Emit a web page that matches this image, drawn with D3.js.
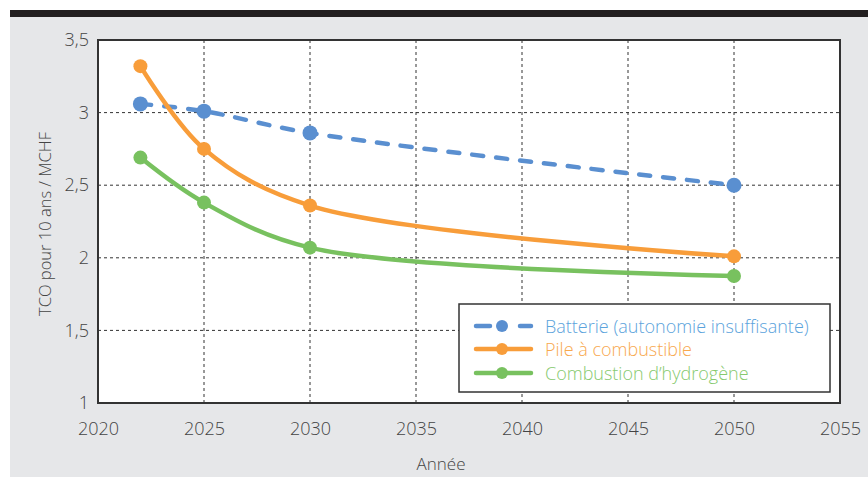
<!DOCTYPE html>
<html>
<head>
<meta charset="utf-8">
<script src="https://cdn.jsdelivr.net/npm/d3@7"></script>
<style>
html,body{margin:0;padding:0;background:#fff;}
svg{display:block;}
text{font-family:"Open Sans",Lato,sans-serif;font-weight:300;}
</style>
</head>
<body>
<svg id="c" width="868" height="477"></svg>
<script>
const years = [2022, 2025, 2030, 2050];
const seriesNames = ["Batterie (autonomie insuffisante)", "Pile à combustible", "Combustion d’hydrogène"];
const batterie = [3.06, 3.01, 2.86, 2.50];
const pile = [3.32, 2.75, 2.36, 2.01];
const combustion = [2.69, 2.38, 2.07, 1.875];
const xTicks = [2020, 2025, 2030, 2035, 2040, 2045, 2050, 2055];
const yTicks = [1, 1.5, 2, 2.5, 3, 3.5];
const yTickLabels = ["1", "1,5", "2", "2,5", "3", "3,5"];
const colors = ["#5a8fd0", "#f89d3a", "#78c15f"];
const textColors = ["#5ba3dc", "#f8a84e", "#86c96e"];
const FONT = "'Open Sans',Lato,sans-serif";

const svg = d3.select("#c");
svg.append("rect").attr("x",10).attr("y",17).attr("width",858).attr("height",460).attr("fill","#e6e7e9");
svg.append("rect").attr("x",10).attr("y",10).attr("width",858).attr("height",7).attr("fill","#231f20");

const x = d3.scaleLinear().domain([2020,2055]).range([98,840]);
const y = d3.scaleLinear().domain([1,3.5]).range([403,40]);

svg.append("rect").attr("x",98).attr("y",40).attr("width",742).attr("height",363).attr("fill","#fff");

const g = svg.append("g");
g.selectAll(".vg").data(xTicks.slice(1,-1)).join("line")
  .attr("x1",d=>x(d)).attr("x2",d=>x(d)).attr("y1",40).attr("y2",403)
  .attr("stroke","#333").attr("stroke-width",1).attr("stroke-dasharray","3,3");
g.selectAll(".hg").data(yTicks.slice(1,-1)).join("line")
  .attr("y1",d=>y(d)).attr("y2",d=>y(d)).attr("x1",98).attr("x2",840)
  .attr("stroke","#333").attr("stroke-width",1).attr("stroke-dasharray","3,3");

svg.append("rect").attr("x",98).attr("y",40).attr("width",742).attr("height",363)
  .attr("fill","none").attr("stroke","#333").attr("stroke-width",2);

const xAxis = d3.axisBottom(x).tickValues(xTicks).tickSize(0).tickPadding(19).tickFormat(d3.format("d"));
const gx = svg.append("g").attr("transform","translate(0,403)").call(xAxis);
gx.select(".domain").remove();
gx.selectAll("text").attr("font-size",18).attr("fill","#444").style("font-family",FONT).style("font-weight",300);

const yAxis = d3.axisLeft(y).tickValues(yTicks).tickSize(0).tickPadding(9).tickFormat((d,i)=>yTickLabels[i]);
const gy = svg.append("g").attr("transform","translate(98,0)").call(yAxis);
gy.select(".domain").remove();
gy.selectAll("text").attr("font-size",18).attr("fill","#444").style("font-family",FONT).style("font-weight",300);

svg.append("text").attr("x",441).attr("y",470).attr("text-anchor","middle")
  .attr("font-size",17).attr("fill","#444").text("Année");
svg.append("text").attr("transform","translate(51,224) rotate(-90)").attr("text-anchor","middle")
  .attr("font-size",16.5).attr("fill","#444").text("TCO pour 10 ans / MCHF");

const data = [batterie, pile, combustion];
const line = d3.line().x((d,i)=>x(years[i])).y(d=>y(d)).curve(d3.curveCatmullRom.alpha(0.5));
data.forEach((vals,k)=>{
  svg.append("path").attr("d",line(vals)).attr("fill","none")
    .attr("stroke",colors[k]).attr("stroke-width",4.5)
    .attr("stroke-linecap", k===0 ? "round" : "butt")
    .attr("stroke-dasharray", k===0 ? "11,13" : null);
  svg.selectAll(null).data(vals).join("circle")
    .attr("cx",(d,i)=>x(years[i])).attr("cy",d=>y(d)).attr("r",k===0?7.5:7)
    .attr("fill",colors[k]);
});

const lg = svg.append("g");
lg.append("rect").attr("x",459).attr("y",304).attr("width",371).attr("height",88)
  .attr("fill","#fff").attr("stroke","#333").attr("stroke-width",1.5);
const rows = [326, 349, 373];
rows.forEach((ry,k)=>{
  lg.append("line").attr("x1",476).attr("x2",531).attr("y1",ry).attr("y2",ry)
    .attr("stroke",colors[k]).attr("stroke-width",4.5).attr("stroke-linecap","round")
    .attr("stroke-dasharray", k===0 ? "14,30" : null);
  lg.append("circle").attr("cx",502).attr("cy",ry).attr("r",6).attr("fill",colors[k]);
  lg.append("text").attr("x",545).attr("y",ry+6.5).attr("font-size",18)
    .attr("fill",textColors[k]).text(seriesNames[k]);
});
</script>
</body>
</html>
